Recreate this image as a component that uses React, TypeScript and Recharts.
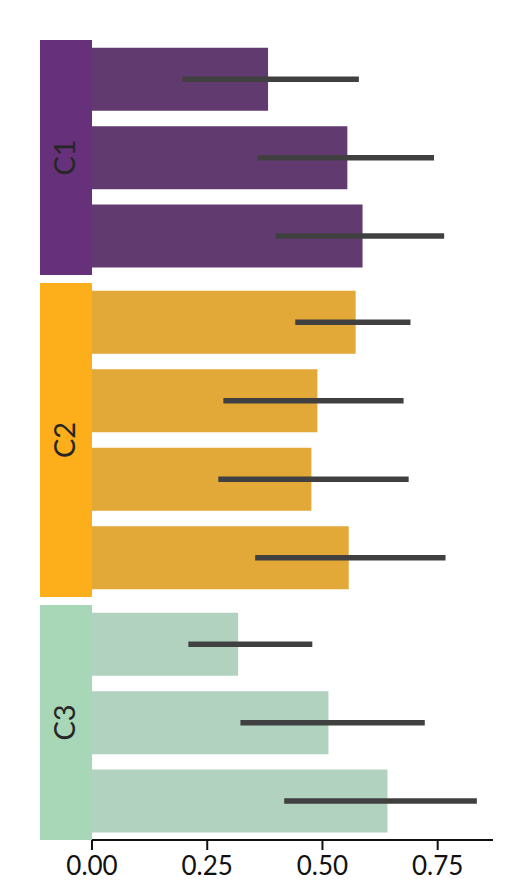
import React from 'react';
import { BarChart, Bar, XAxis, YAxis, ErrorBar } from 'recharts';

const groupNames = ['C1', 'C2', 'C3'];
const groupBandColors = ['#67307a', '#fdae1b', '#a8d7b7'];
const groupBarColors = ['#613a70', '#e2a838', '#b0d2be'];

// mean and CI bounds per bar
const c1Means = [0.382, 0.554, 0.587];
const c1Low = [0.196, 0.359, 0.398];
const c1High = [0.579, 0.742, 0.764];

const c2Means = [0.572, 0.489, 0.476, 0.557];
const c2Low = [0.441, 0.285, 0.274, 0.354];
const c2High = [0.691, 0.676, 0.687, 0.767];

const c3Means = [0.317, 0.513, 0.641];
const c3Low = [0.209, 0.322, 0.417];
const c3High = [0.478, 0.722, 0.835];

const xTicks = [0, 0.25, 0.5, 0.75];
const xDomain = [0, 0.87];

const FONT = 'Lato, "Open Sans", sans-serif';

function buildRows(group: string, means: number[], low: number[], high: number[]) {
  return means.map((m, i) => ({
    name: `${group}-${i}`,
    value: m,
    err: [m - low[i], high[i] - m],
  }));
}

const groupRows = [
  buildRows('C1', c1Means, c1Low, c1High),
  buildRows('C2', c2Means, c2Low, c2High),
  buildRows('C3', c3Means, c3Low, c3High),
];

function Band(props: any) {
  const { viewBox, color, text } = props;
  if (!viewBox) return null;
  const { x, y, width, height } = viewBox;
  const cx = x + width / 2 - 3;
  const cy = y + height / 2;
  return (
    <g>
      <rect x={x} y={y} width={width} height={height} fill={color} />
      <text
        x={cx}
        y={cy}
        transform={`rotate(-90, ${cx}, ${cy})`}
        textAnchor="middle"
        dominantBaseline="central"
        fontFamily={FONT}
        fontSize={29}
        fill="#262626"
      >
        {text}
      </text>
    </g>
  );
}

export default function App() {
  const heights = [267, 322, 293];
  return (
    <div style={{ width: 515, background: '#fff' }}>
      {groupRows.map((rows, gi) => {
        const last = gi === groupRows.length - 1;
        return (
          <BarChart
            key={groupNames[gi]}
            width={500}
            height={heights[gi]}
            data={rows}
            layout="vertical"
            barCategoryGap="10%"
            margin={{ top: gi === 0 ? 32 : 8, right: 15, left: 32, bottom: last ? 4 : 0 }}
          >
            <XAxis
              type="number"
              domain={xDomain}
              ticks={xTicks}
              allowDataOverflow
              hide={!last}
              height={46}
              axisLine={{ stroke: '#111', strokeWidth: 2 }}
              tickLine={{ stroke: '#111', strokeWidth: 2 }}
              tickSize={10}
              tickMargin={7}
              tickFormatter={(v: number) => v.toFixed(2)}
              tick={{ fill: '#111', fontSize: 26, fontFamily: FONT }}
            />
            <YAxis
              type="category"
              dataKey="name"
              width={52}
              tick={false}
              axisLine={false}
              tickLine={false}
              label={{
                content: (p: any) => (
                  <Band viewBox={p.viewBox} color={groupBandColors[gi]} text={groupNames[gi]} />
                ),
              }}
            />
            <Bar dataKey="value" fill={groupBarColors[gi]} isAnimationActive={false}>
              <ErrorBar
                dataKey="err"
                direction="x"
                width={0}
                stroke="#404040"
                strokeWidth={5.5}
                isAnimationActive={false}
              />
            </Bar>
          </BarChart>
        );
      })}
    </div>
  );
}
